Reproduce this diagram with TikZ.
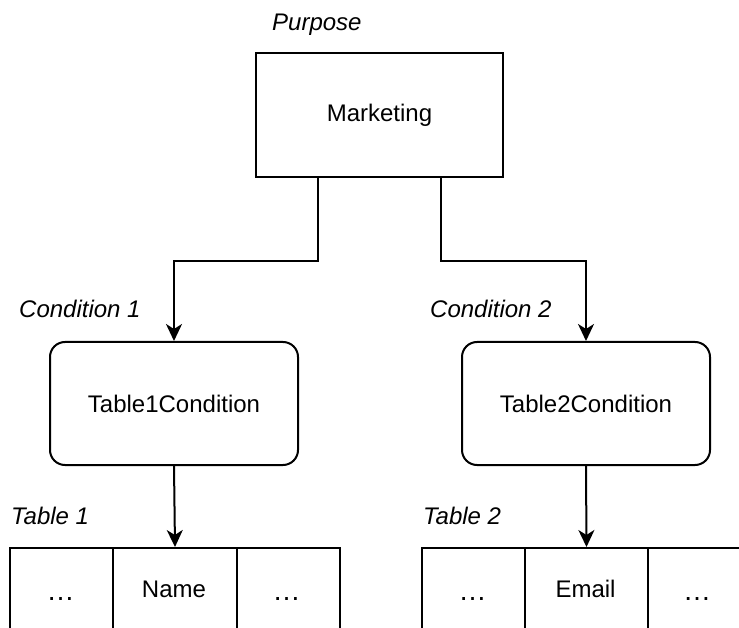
\documentclass[tikz,border=0pt]{standalone}
\usepackage{fontspec}
\setmainfont{Liberation Sans}
\usetikzlibrary{arrows.meta}
\begin{document}
\begin{tikzpicture}[x=1pt,y=-1pt,
  font=\fontsize{24}{29}\selectfont,
  box/.style={draw=black,line width=2pt,inner sep=0pt},
  condbox/.style={box,rounded corners=15pt,minimum width=248pt,minimum height=123pt},
  cell/.style={draw=black,line width=2pt,inner sep=0pt,anchor=north west,minimum height=93pt},
  tag/.style={inner sep=0pt,anchor=base west,font=\fontsize{24}{29}\selectfont\itshape},
  celltext/.style={inner sep=0pt,anchor=base},
  dots/.style={inner sep=0pt,anchor=base,font=\fontsize{28}{32}\selectfont},
  arr/.style={line width=2pt,-{Stealth[length=17pt,width=16pt,inset=5pt]}}]
\useasboundingbox (0,0) rectangle (739,628);
\clip (0,0) rectangle (739,628);

% top level
\node[box,minimum width=247pt,minimum height=124pt] (mkt) at (379.5,115) {Marketing};
\node[tag] (purpose) at (272,31) {Purpose};

% conditions
\node[condbox] (c1) at (174,403.5) {Table1Condition};
\node[condbox] (c2) at (586,403.5) {Table2Condition};
\node[tag] (c1lab) at (19,318) {Condition 1};
\node[tag] (c2lab) at (430,318) {Condition 2};

% table 1
\node[cell,minimum width=103pt] (t1a) at (9,547) {};
\node[cell,minimum width=124pt] (t1b) at (112,547) {};
\node[cell,minimum width=103pt] (t1c) at (236,547) {};
\node[dots] (t1aT) at (60.5,600) {…};
\node[celltext] (t1bT) at (174,597) {Name};
\node[dots] (t1cT) at (286.5,600) {…};
\node[tag] (t1lab) at (11,524) {Table 1};

% table 2
\node[cell,minimum width=103pt] (t2a) at (421,547) {};
\node[cell,minimum width=123pt] (t2b) at (524,547) {};
\node[cell,minimum width=102pt] (t2c) at (647,547) {};
\node[dots] (t2aT) at (472.5,600) {…};
\node[celltext] (t2bT) at (585.5,597) {Email};
\node[dots] (t2cT) at (697,600) {…};
\node[tag] (t2lab) at (423,524) {Table 2};

% connectors
\draw[arr] ([xshift=-61.5pt]mkt.south) -- ++(0,83) -| (c1.north);
\draw[arr] ([xshift=61.5pt]mkt.south) -- ++(0,83) -| (c2.north);
\draw[arr] (c1.south) -- (t1b.north);
\draw[arr] (c2.south) -- (t2b.north);
\end{tikzpicture}
\end{document}
